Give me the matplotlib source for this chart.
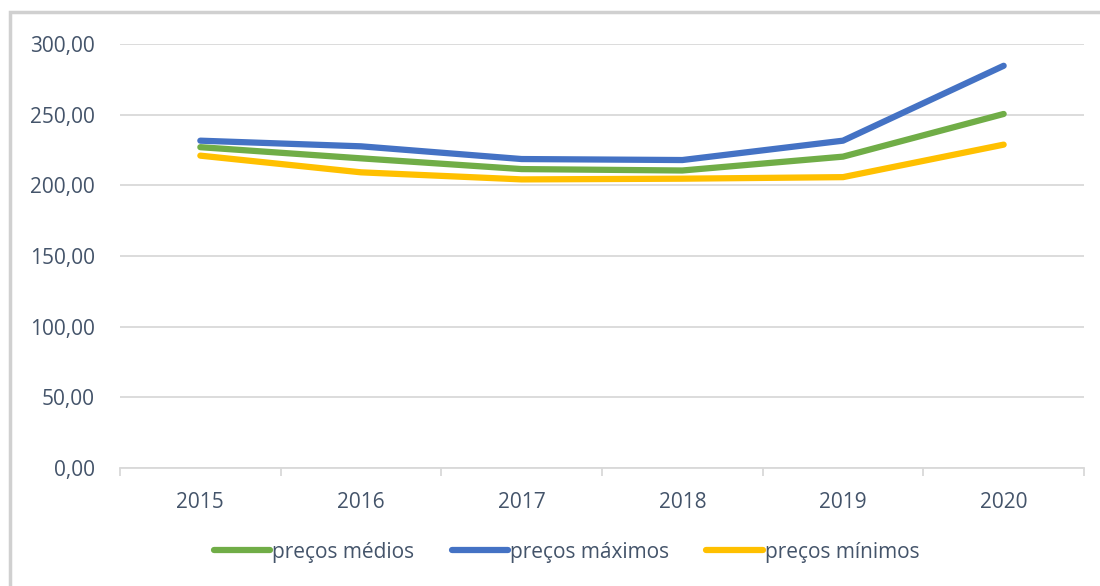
import matplotlib.pyplot as plt
from matplotlib.patches import Rectangle
from matplotlib.ticker import FixedLocator, FuncFormatter

plt.rcParams['font.family'] = ['Open Sans', 'DejaVu Sans']

years = ['2015', '2016', '2017', '2018', '2019', '2020']
precos_medios = [227.0, 219.1, 211.5, 210.5, 220.3, 250.5]
precos_maximos = [231.6, 227.6, 218.6, 217.9, 231.6, 284.6]
precos_minimos = [221.0, 209.2, 204.2, 204.7, 205.8, 228.8]

text_color = '#44546A'
grid_color = '#D9D9D9'

fig = plt.figure(figsize=(11, 5.86), dpi=100)
# chart frame
fig.patches.append(Rectangle((10 / 1100, -0.05), 1.2, 1.05 - 12 / 586,
                             transform=fig.transFigure, fill=False,
                             edgecolor='#D0D0D0', linewidth=2.5))

ax = fig.add_axes([120 / 1100, 1 - 468 / 586, 964 / 1100, 424 / 586])
x = list(range(len(years)))
ax.plot(x, precos_medios, color='#70AD47', lw=4.5, solid_capstyle='round', label='preços médios')
ax.plot(x, precos_maximos, color='#4472C4', lw=4.5, solid_capstyle='round', label='preços máximos')
ax.plot(x, precos_minimos, color='#FFC000', lw=4.5, solid_capstyle='round', label='preços mínimos')

ax.set_xlim(-0.5, len(years) - 0.5)
ax.set_ylim(0, 300)
ax.set_yticks(range(0, 301, 50))
ax.yaxis.set_major_formatter(FuncFormatter(lambda v, p: f'{v:.2f}'.replace('.', ',')))
ax.set_xticks(x)
ax.set_xticklabels(years)
ax.xaxis.set_minor_locator(FixedLocator([i - 0.5 for i in range(len(years) + 1)]))

ax.grid(axis='y', color=grid_color, lw=1.3)
ax.set_axisbelow(True)
for s in ['top', 'right', 'left']:
    ax.spines[s].set_visible(False)
ax.spines['bottom'].set_color(grid_color)
ax.spines['bottom'].set_linewidth(1.3)

ax.tick_params(axis='y', length=0, pad=18, labelsize=15, labelcolor=text_color)
ax.tick_params(axis='x', which='major', length=0, pad=17, labelsize=15, labelcolor=text_color)
ax.tick_params(axis='x', which='minor', length=6, width=1.3, color=grid_color)

fig.legend(loc='center', bbox_to_anchor=(0.515, 0.058), ncol=3, frameon=False,
           fontsize=15, labelcolor=text_color, handlelength=2.7, handletextpad=0.1,
           columnspacing=1.8)

fig.savefig('out.png', dpi=100)
